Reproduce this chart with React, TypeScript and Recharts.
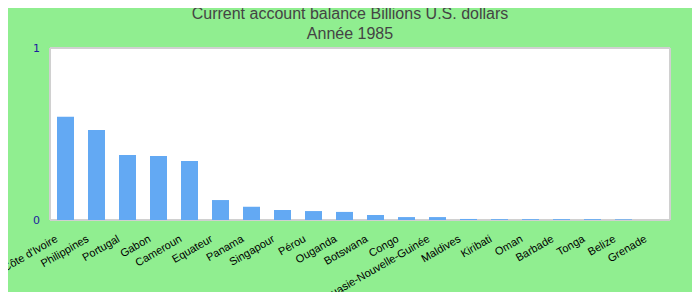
import React from "react";
import {Bar, BarChart, CartesianGrid, XAxis, YAxis} from "recharts";

const countries = [
  "Côte d'Ivoire", "Philippines", "Portugal", "Gabon", "Cameroun", "Equateur", "Panama",
  "Singapour", "Pérou", "Ouganda", "Botswana", "Congo", "Papouasie-Nouvelle-Guinée",
  "Maldives", "Kiribati", "Oman", "Barbade", "Tonga", "Belize", "Grenade",
];
const balance = [
  0.6, 0.523, 0.378, 0.372, 0.343, 0.116, 0.077, 0.058, 0.052, 0.047,
  0.029, 0.017, 0.017, 0.006, 0.005, 0.005, 0.005, 0.005, 0.004, 0,
];
const yTicks = [0, 1];
const titleLines = ["Current account balance Billions U.S. dollars", "Année 1985"];

const data = countries.map((name, i) => ({name, value: balance[i]}));

const CountryTick = (props: any) => {
  const {x, y, payload} = props;
  return (
    <g transform={`translate(${x - 7}, ${y + 21})`}>
      <text x={0} y={0} textAnchor="end" fontSize={11} fill="#000"
            fontFamily="'Liberation Sans', Arial, sans-serif" transform="rotate(-30)">
        {payload.value}
      </text>
    </g>
  );
};

export default function App() {
  return (
    <div style={{position: "relative", width: 700, height: 300, margin: -8, background: "#90EE90"}}>
      <div style={{
        position: "absolute", top: 4, left: 0, width: 700, textAlign: "center",
        fontFamily: "'Liberation Sans', Arial, sans-serif", fontSize: 16, lineHeight: "20px", color: "#444",
      }}>
        {titleLines.map(t => <div key={t}>{t}</div>)}
      </div>
      <BarChart width={700} height={300} data={data} style={{position: "absolute", top: 0, left: 0}}
                margin={{top: 48, right: 30, bottom: 0, left: 0}}>
        <CartesianGrid fill="#fff" stroke="#d0d0d0" strokeWidth={2}
                       verticalCoordinatesGenerator={({offset}: any) => [offset.left, offset.left + offset.width]}/>
        <XAxis dataKey="name" interval={0} height={80} axisLine={false} tickLine={false}
               tickSize={0} tickMargin={0} tick={<CountryTick/>}/>
        <YAxis domain={[0, 1]} ticks={yTicks} width={50} axisLine={false} tickLine={false}
               tickSize={0} tickMargin={10}
               tick={{fill: "#1c1c9e", fontSize: 11, fontFamily: "'DejaVu Sans', sans-serif"}}/>
        <Bar dataKey="value" fill="#63A9F3" barSize={17} isAnimationActive={false}/>
      </BarChart>
      <div style={{
        position: "absolute", top: 0, left: 0, width: 700, height: 300, boxSizing: "border-box",
        borderStyle: "solid", borderColor: "#11e611", borderWidth: "1px 1px 1px 2px", pointerEvents: "none",
      }}/>
    </div>
  );
}
